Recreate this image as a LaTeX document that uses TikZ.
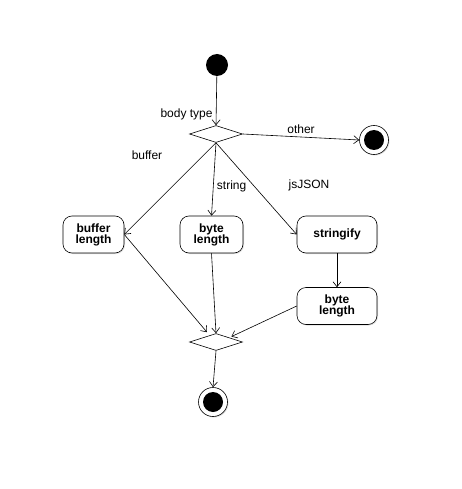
\documentclass[tikz,border=0pt]{standalone}
\usepackage{fontspec}
\setmainfont{Liberation Sans}
\usetikzlibrary{arrows.meta, shapes.geometric, shadows}

\tikzset{
    flow/.style={-{Straight Barb[length=5pt,width=8pt]}, line width=0.6pt},
    action/.style={draw, line width=0.6pt, rounded corners=9pt, align=center,
        font=\bfseries\fontsize{12}{13}\selectfont, minimum height=37pt,
        fill=white, drop shadow={shadow xshift=1pt, shadow yshift=-1pt, opacity=0.25}},
    choice/.style={draw, diamond, line width=0.6pt, inner sep=0pt,
        minimum width=53pt, minimum height=17pt, aspect=3},
    startnode/.style={circle, fill=black, minimum size=22pt, inner sep=0pt},
    endnode/.style={circle, draw, line width=0.6pt, minimum size=29pt, inner sep=0pt,
        fill=white, drop shadow={shadow xshift=1pt, shadow yshift=-1pt, opacity=0.25},
        path picture={\fill[black] (path picture bounding box.center) circle (10pt);}},
    lbl/.style={font=\fontsize{12}{13}\selectfont}
}

\begin{document}
\begin{tikzpicture}[x=1pt, y=-1pt]
    \useasboundingbox (0,0) rectangle (462,489);
    \node[startnode] (init) at (217,65) {};
    \node[choice] (bodytype) at (216,134) {};
    \node[endnode] (other end) at (374,140) {};
    \node[action, minimum width=61pt] (buflen) at (93.5,234.5) {buffer\\[-2pt]length};
    \node[action, minimum width=63pt] (strlen) at (211.5,234.5) {byte\\[-2pt]length};
    \node[action, minimum width=80pt] (stringify) at (337,234.5) {stringify};
    \node[action, minimum width=80pt] (jsonlen) at (337,306) {byte\\[-2pt]length};
    \node[choice] (merge) at (216,342) {};
    \node[endnode] (done) at (213,402) {};

    \draw[flow] (init) -- (bodytype.north) node[lbl, pos=0.78, left] (lbltype) {body type};
    \draw[flow] (bodytype.east) -- (other end.west) node[lbl, midway, above] (lblother) {other};
    \draw[flow] (bodytype.south) -- (buflen.east);
    \node[lbl] (lblbuffer) at (147,155) {buffer};
    \draw[flow] (bodytype.south) -- (strlen.north) node[lbl, pos=0.6, right] (lblstring) {string};
    \draw[flow] (bodytype.south) -- (stringify.west);
    \node[lbl] (lbljson) at (309,185) {jsJSON};
    \draw[flow] (stringify.south) -- (jsonlen.north);
    \draw[flow] (buflen.east) -- ([xshift=-9pt, yshift=1pt]merge.north);
    \draw[flow] (strlen.south) -- (merge.north);
    \draw[flow] (jsonlen.west) -- ([xshift=2pt, yshift=1pt]merge.north east);
    \draw[flow] (merge.south) -- (done.north);
\end{tikzpicture}
\end{document}
